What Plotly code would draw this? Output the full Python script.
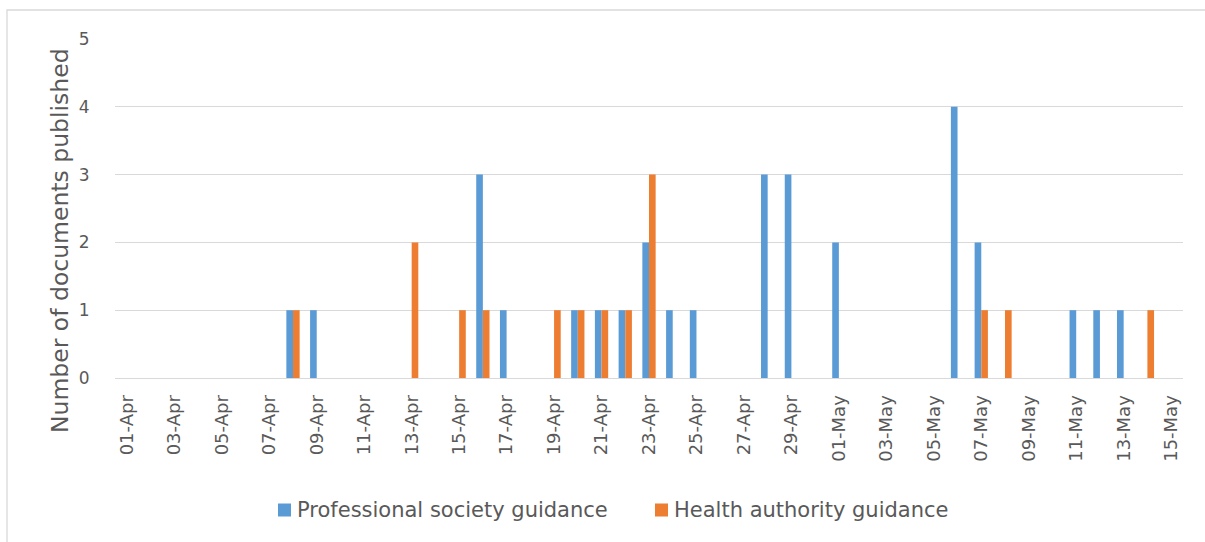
import plotly.graph_objects as go

dates = ["01-Apr", "02-Apr", "03-Apr", "04-Apr", "05-Apr", "06-Apr", "07-Apr", "08-Apr",
         "09-Apr", "10-Apr", "11-Apr", "12-Apr", "13-Apr", "14-Apr", "15-Apr", "16-Apr",
         "17-Apr", "18-Apr", "19-Apr", "20-Apr", "21-Apr", "22-Apr", "23-Apr", "24-Apr",
         "25-Apr", "26-Apr", "27-Apr", "28-Apr", "29-Apr", "30-Apr", "01-May", "02-May",
         "03-May", "04-May", "05-May", "06-May", "07-May", "08-May", "09-May", "10-May",
         "11-May", "12-May", "13-May", "14-May", "15-May"]

professional = [0, 0, 0, 0, 0, 0, 0, 1, 1, 0, 0, 0, 0, 0, 0, 3,
                1, 0, 0, 1, 1, 1, 2, 1, 1, 0, 0, 3, 3, 0, 2, 0,
                0, 0, 0, 4, 2, 0, 0, 0, 1, 1, 1, 0, 0]

health = [0, 0, 0, 0, 0, 0, 0, 1, 0, 0, 0, 0, 2, 0, 1, 1,
          0, 0, 1, 1, 1, 1, 3, 0, 0, 0, 0, 0, 0, 0, 0, 0,
          0, 0, 0, 0, 1, 1, 0, 0, 0, 0, 0, 1, 0]

tick_labels = dates[::2]

series_names = ["Professional society guidance", "Health authority guidance"]
colors = ["#5B9BD5", "#ED7D31"]
y_title = "Number of documents published"

FONT = "DejaVu Sans"
TXT = "#595959"
GRID = "#d9d9d9"

fig = go.Figure()
for vals, name, col in zip([professional, health], series_names, colors):
    fig.add_trace(go.Bar(x=dates, y=vals, name=name, marker_color=col,
                         marker_line_width=0))

W, H = 1205, 542
L, R, T, B = 115, 22, 39, 164
pw = W - L - R
ph = H - T - B


def px_x(p):
    return (p - L) / pw


def px_y(p):
    return (H - B - p) / ph


# legend drawn as swatches + text (positions in pixels)
legend_swatch_x = [278, 655]
legend_cy = 510
sw = 13
shapes = [dict(type="rect", xref="paper", yref="paper",
               x0=px_x(7), x1=px_x(W + 40), y0=px_y(H + 40), y1=px_y(10),
               line=dict(color=GRID, width=1.3), fillcolor="rgba(0,0,0,0)", layer="below")]
annotations = [dict(text=y_title, xref="paper", yref="paper",
                    x=px_x(60), y=px_y(241), xanchor="center", yanchor="middle",
                    textangle=-90, showarrow=False,
                    font=dict(size=23.5, color=TXT, family=FONT))]
for name, col, sx in zip(series_names, colors, legend_swatch_x):
    shapes.append(dict(type="rect", xref="paper", yref="paper",
                       x0=px_x(sx), x1=px_x(sx + sw),
                       y0=px_y(legend_cy + sw / 2), y1=px_y(legend_cy - sw / 2),
                       line=dict(width=0), fillcolor=col, layer="above"))
    annotations.append(dict(text=name, xref="paper", yref="paper",
                            x=px_x(sx + sw + 4), y=px_y(legend_cy),
                            xanchor="left", yanchor="middle", showarrow=False,
                            font=dict(size=21, color=TXT, family=FONT)))

fig.update_layout(
    width=W, height=H,
    margin=dict(l=L, r=R, t=T, b=B, autoexpand=False),
    paper_bgcolor="white", plot_bgcolor="white",
    barmode="group", bargap=0.44, bargroupgap=0,
    font=dict(family=FONT, color=TXT),
    showlegend=False,
    xaxis=dict(type="category", categoryorder="array", categoryarray=dates,
               tickmode="array", tickvals=tick_labels, ticktext=tick_labels,
               tickangle=-90, tickfont=dict(size=18, color=TXT, family=FONT),
               ticks="outside", ticklen=9, tickcolor="rgba(0,0,0,0)",
               showgrid=False, showline=False, zeroline=False,
               range=[-0.5, len(dates) - 0.5], automargin=False),
    yaxis=dict(range=[0, 5], dtick=1, tick0=0,
               tickfont=dict(size=17, color=TXT, family=FONT),
               ticks="outside", ticklen=21, tickcolor="rgba(0,0,0,0)",
               showgrid=True, gridcolor=GRID, gridwidth=1,
               zeroline=True, zerolinecolor=GRID, zerolinewidth=1,
               showline=False, automargin=False),
    annotations=annotations,
    shapes=shapes,
)

fig.write_html("out.html")
